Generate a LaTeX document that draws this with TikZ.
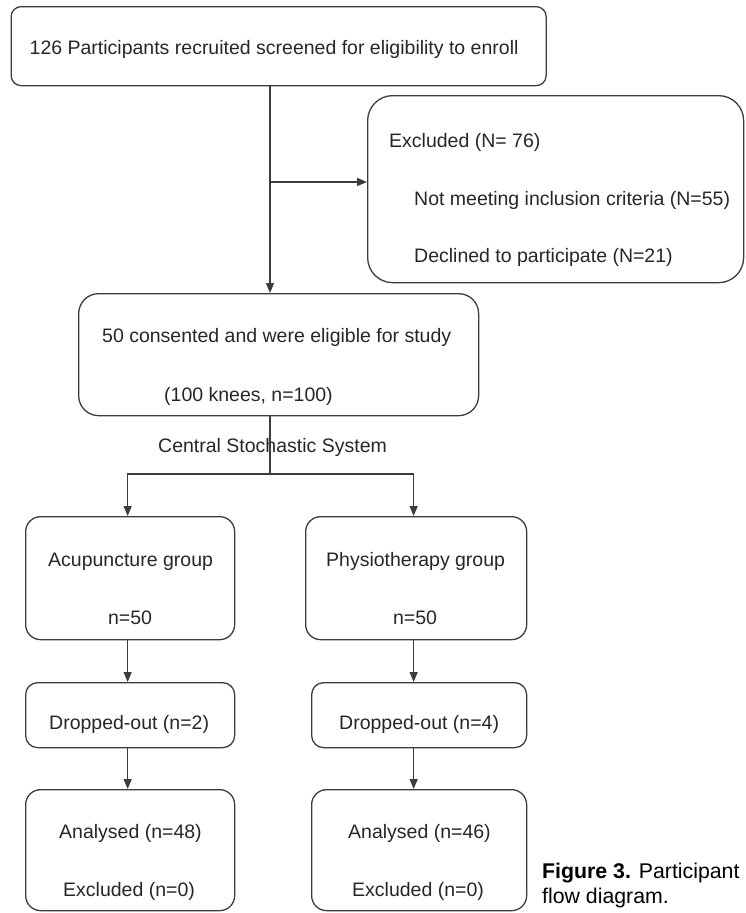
\documentclass[tikz,border=0pt]{standalone}
\usepackage{fontspec}
\setmainfont{Liberation Sans}
\usetikzlibrary{arrows.meta}
\definecolor{linec}{HTML}{3C3C3C}
\definecolor{textc}{HTML}{262626}
\begin{document}
\begin{tikzpicture}[x=1pt,y=1pt,
  box/.style={draw=linec,line width=1.3pt,anchor=north west,inner sep=0pt},
  txt/.style={anchor=base west,inner sep=0pt,text=textc,font=\fontsize{19.5}{23}\selectfont},
  ctxt/.style={anchor=base,inner sep=0pt,text=textc,font=\fontsize{19.5}{23}\selectfont},
  captxt/.style={anchor=base west,inner sep=0pt,text=black,font=\fontsize{21.3}{26}\selectfont},
  arr/.style={draw=linec,line width=1.3pt,-{Triangle[length=10pt,width=8pt]}},
  ln/.style={draw=linec,line width=1.3pt}]
\useasboundingbox (0,0) rectangle (745,-913);
% boxes
\node[box,rounded corners=10pt,minimum width=535pt,minimum height=79pt] (top) at (10.5,-6) {};
\node[box,rounded corners=25pt,minimum width=376pt,minimum height=187pt] (excl) at (367,-95) {};
\node[box,rounded corners=20pt,minimum width=400pt,minimum height=122pt] (box2) at (78,-293) {};
\node[box,rounded corners=15pt,minimum width=209pt,minimum height=123pt] (acup) at (25,-516) {};
\node[box,rounded corners=15pt,minimum width=221pt,minimum height=123pt] (phys) at (305,-516) {};
\node[box,rounded corners=12pt,minimum width=209pt,minimum height=65pt] (dropA) at (25,-682) {};
\node[box,rounded corners=12pt,minimum width=215pt,minimum height=65pt] (dropP) at (311,-682) {};
\node[box,rounded corners=15pt,minimum width=209pt,minimum height=121pt] (anA) at (25,-789) {};
\node[box,rounded corners=15pt,minimum width=215pt,minimum height=121pt] (anP) at (311,-789) {};
% texts
\node[txt] (t1) at (29.5,-54) {126 Participants recruited screened for eligibility to enroll};
\node[txt] (e1) at (389,-147) {Excluded (N= 76)};
\node[txt] (e2) at (414,-205) {Not meeting inclusion criteria (N=55)};
\node[txt] (e3) at (414,-262) {Declined to participate (N=21)};
\node[txt] (c1) at (102,-342) {50 consented and were eligible for study};
\node[txt] (c2) at (164,-401) {(100 knees, n=100)};
\node[txt] (css) at (158,-452) {Central Stochastic System};
\node[txt] (a1) at (48,-566) {Acupuncture group};
\node[ctxt] (a2) at (130,-624) {n=50};
\node[txt] (p1) at (326,-566) {Physiotherapy group};
\node[ctxt] (p2) at (415,-624) {n=50};
\node[txt] (da) at (49,-729) {Dropped-out (n=2)};
\node[txt] (dp) at (339,-729) {Dropped-out (n=4)};
\node[txt] (aa1) at (59,-838) {Analysed (n=48)};
\node[txt] (aa2) at (63,-896) {Excluded (n=0)};
\node[txt] (ap1) at (348,-838) {Analysed (n=46)};
\node[txt] (ap2) at (352,-896) {Excluded (n=0)};
\node[captxt] (cap1) at (542,-878) {\textbf{Figure 3.} Participant};
\node[captxt] (cap2) at (542,-903) {flow diagram.};
% connectors
\coordinate (v) at (270,0);
\coordinate (hb) at (270,-182);
\coordinate (br) at (270,-474);
\draw[arr] (top.south -| v) -- (box2.north -| v);
\draw[arr] (hb) -- (hb -| excl.west);
\draw[ln] (box2.south -| br) -- (br);
\draw[arr] (br) -| ([xshift=-2.5pt]acup.north);
\draw[arr] (br) -| ([xshift=-2.5pt]phys.north);
\draw[arr] ([xshift=-2.5pt]acup.south) -- ([xshift=-2.5pt]acup.south |- dropA.north);
\draw[arr] ([xshift=-2.5pt]phys.south) -- ([xshift=-2.5pt]phys.south |- dropP.north);
\draw[arr] ([xshift=-2.5pt]dropA.south) -- ([xshift=-2.5pt]dropA.south |- anA.north);
\draw[arr] ([xshift=-5.5pt]dropP.south) -- ([xshift=-5.5pt]dropP.south |- anP.north);
\end{tikzpicture}
\end{document}
